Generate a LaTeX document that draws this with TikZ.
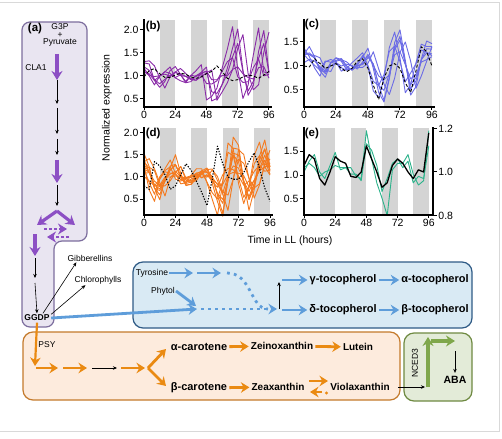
\documentclass[tikz,border=0pt]{standalone}
\usepackage{fontspec}
\setmainfont{Liberation Sans}
\usepackage{tikz}
\usetikzlibrary{arrows.meta}

\definecolor{lavbox}{HTML}{E9E5F1}
\definecolor{lavedge}{HTML}{7D6E9E}
\definecolor{purparr}{HTML}{8C4FC4}
\definecolor{purline}{HTML}{8A2BA8}
\definecolor{bluline}{HTML}{6B6BE6}
\definecolor{oraline}{HTML}{F47A1F}
\definecolor{grnline}{HTML}{2CB38B}
\definecolor{tocfill}{HTML}{D9EAF4}
\definecolor{tocedge}{HTML}{2F5B86}
\definecolor{tocarr}{HTML}{5E9DDA}
\definecolor{carfill}{HTML}{FDEBDD}
\definecolor{caredge}{HTML}{C47A2C}
\definecolor{cararr}{HTML}{EA8A12}
\definecolor{abafill}{HTML}{E3EBD8}
\definecolor{abaedge}{HTML}{6F8A42}
\definecolor{abaarr}{HTML}{7FA74B}
\definecolor{bandgray}{HTML}{D4D4D4}

\begin{document}
\begin{tikzpicture}[
  x=1pt, y=-1pt,
  font=\fontsize{8.5}{9}\selectfont,
  >={Stealth[length=4pt,width=3.5pt]},
  blk/.style={->, line width=0.6pt},
  fatp/.style={-{Stealth[length=9pt,width=11pt]}, draw=purparr, line width=3.2pt},
  pdots/.style={fatp, line width=2.6pt, dash pattern=on 2.6pt off 2.4pt},
  tocarrow/.style={-{Stealth[length=8.5pt,width=10.5pt]}, draw=tocarr, line width=2.8pt},
  tocdots/.style={tocarrow, dash pattern=on 2.8pt off 4.2pt},
  cararrow/.style={-{Stealth[length=8.5pt,width=10.5pt]}, draw=cararr, line width=2.8pt},
  abaarrow/.style={-{Stealth[length=9pt,width=11pt]}, draw=abaarr, line width=3.6pt},
  met/.style={font=\bfseries\fontsize{10}{12}\selectfont, inner sep=2pt},
  bigmet/.style={font=\bfseries\fontsize{11}{13}\selectfont, inner sep=2pt},
  side/.style={font=\fontsize{8.5}{10}\selectfont, inner sep=1pt},
  plabel/.style={font=\bfseries\fontsize{11.5}{13}\selectfont, inner sep=0pt},
  ticklbl/.style={font=\fontsize{10.5}{12}\selectfont, inner sep=1pt},
  axisline/.style={line width=1.3pt, line cap=rect},
  tickmark/.style={line width=1pt},
  subjnight/.style={fill=bandgray},
  serie/.style={line width=0.9pt, line join=round},
]

% --- fixed bounding box (white background) + page frame ---
\useasboundingbox (0,0) rectangle (502,438);
\fill[white] (0,0) rectangle (502,438);
\draw[gray!30, line width=0.8pt] (0,2) -- (499,2) -- (499,431) -- (0,431);

% ============================ (a) MEP column =========================
\draw[lavedge, fill=lavbox, line width=1.2pt, rounded corners=8pt]
  (22,22) -- (87,22) -- (87,241) -- (54,241) -- (54,327) -- (22,327) -- cycle;
\node[plabel] (pa) at (35,29) {(a)};
\node[align=center, font=\fontsize{8.5}{7.5}\selectfont, inner sep=1pt]
  (g3p) at (60,35) {G3P\\+\\Pyruvate};
\node[side] (cla1) at (36,68) {CLA1};

\foreach \n/\y in {0/54,1/80,2/104,3/108,4/134,5/139,6/155,7/160,8/183,9/185,10/206,11/211}
  \coordinate (mep\n) at (57,\y);
\draw[fatp] (mep0) -- (mep1);
\draw[blk]  (mep1) -- (mep2);
\draw[blk]  (mep3) -- (mep4);
\draw[blk]  (mep5) -- (mep6);
\draw[fatp] (mep7) -- (mep8);
\draw[blk]  (mep9) -- (mep10);

% branch + reversible dotted steps
\coordinate (brl) at (37,225);
\coordinate (brr) at (75,225);
\draw[fatp] (mep11) -- (brl);
\draw[fatp] (mep11) -- (brr);
\coordinate (dr0) at (44,229);
\coordinate (dr1) at (67,229);
\coordinate (dl0) at (69,237);
\coordinate (dl1) at (47,237);
\draw[pdots] (dr0) -- (dr1);
\draw[pdots] (dl0) -- (dl1);

\foreach \n/\y in {0/234,1/256,2/258,3/278,4/283}
  \coordinate (low\n) at (35,\y);
\node[font=\bfseries\fontsize{8.5}{10}\selectfont, inner sep=1.5pt] (ggdp) at (37,318) {GGDP};
\draw[fatp] (low0) -- (low1);
\draw[blk]  (low2) -- (low3);
\draw[blk]  (low4) -- (ggdp.north);

\node[side] (gib) at (90,258) {Gibberellins};
\node[side] (chl) at (98,280) {Chlorophylls};
\draw[blk] ([xshift=6pt]ggdp.north) -- ([xshift=10pt]gib.south west);
\draw[blk] ([yshift=-1pt]ggdp.north east) -- ([xshift=12pt]chl.south west);

% ============================ tocopherols ============================
\draw[tocedge, fill=tocfill, line width=1.2pt, rounded corners=10pt]
  (133,262) rectangle (472,328);
\node[side] (tyr) at (152,273) {Tyrosine};
\node[side] (phy) at (163,291) {Phytol};
\coordinate (ty1) at (193,273);
\coordinate (ty2) at (197,273);
\coordinate (ty3) at (221,273);
\coordinate (ty4) at (227,273);
\coordinate (phj) at (196,306);
\coordinate (tjoin) at (197,309);
\coordinate (split) at (277,309);
\coordinate (up) at (279,282);
\coordinate (gsrc) at (282,280);
\coordinate (dsrc) at (282,310);

\node[bigmet] (gtoc) at (343,280) {γ-tocopherol};
\node[bigmet] (atoc) at (435,280) {α-tocopherol};
\node[bigmet] (dtoc) at (343,310) {δ-tocopherol};
\node[bigmet] (btoc) at (435,310) {β-tocopherol};

\draw[tocarrow] (ggdp.east) -- (tjoin);
\draw[tocarrow] (tyr.east) -- (ty1);
\draw[tocarrow] (ty2) -- (ty3);
\draw[tocarrow] (phy.east) -- (phj);
\draw[tocdots, -] (ty4) .. controls (252,273) and (250,309) .. (268,309);
\draw[tocdots] ([xshift=4pt]tjoin) -- (split);
\draw[blk] ([xshift=2pt]split) -- (up);
\draw[tocarrow] (gsrc) -- (gtoc.west);
\draw[tocarrow] (dsrc) -- (dtoc.west);
\draw[tocarrow] (gtoc) -- (atoc);
\draw[tocarrow] (dtoc) -- (btoc);

% ============================ carotenoids ============================
\draw[caredge, fill=carfill, line width=1.2pt, rounded corners=10pt]
  (23,332) rectangle (400,400);
\node[side] (psy) at (47,345) {PSY};
\foreach \n/\x in {1/35,2/36,3/58,4/63,5/87,6/92,7/117,8/121,9/145,10/148}
  \coordinate (car\n) at (\x,368);
\coordinate (car1) at (35,366);
\coordinate (fka) at (166,349);
\coordinate (fkb) at (166,386);
\draw[cararrow, line width=2.2pt] (ggdp.south) -- (car1);
\draw[cararrow, line width=2.2pt] (car2) -- (car3);
\draw[cararrow] (car4) -- (car5);
\draw[blk] (car6) -- (car7);
\draw[cararrow] (car8) -- (car9);
\draw[cararrow] (car10) -- (fka);
\draw[cararrow] (car10) -- (fkb);

\node[bigmet] (acar) at (199,347) {α-carotene};
\node[bigmet] (bcar) at (199,388) {β-carotene};
\node[met] (zein) at (282,346) {Zeinoxanthin};
\node[met] (lut)  at (358,347) {Lutein};
\node[met] (zeax) at (278,387) {Zeaxanthin};
\node[met] (viol) at (360,387) {Violaxanthin};
\draw[cararrow] (acar) -- (zein);
\draw[cararrow] (zein) -- (lut);
\draw[cararrow] (bcar) -- (zeax);
\coordinate (rv0) at (309,381);
\coordinate (rv1) at (328,381);
\coordinate (rv2) at (322,392);
\coordinate (rv3) at (310,392);
\draw[cararrow] (rv0) -- (rv1);
\draw[cararrow] (rv2) -- (rv3);
\fill[cararr] (326.5,393) circle (1.6);

% ============================ ABA ====================================
\draw[abaedge, fill=abafill, line width=1.2pt, rounded corners=10pt]
  (404,333) rectangle (472,401);
\node[side, rotate=90] (nced) at (415,363) {NCED3};
\node[font=\bfseries\fontsize{10.5}{12}\selectfont] (aba) at (455,380) {ABA};
\coordinate (gr0) at (428,387);
\coordinate (gr1) at (428,337);
\coordinate (gr2) at (431,341);
\coordinate (gr3) at (455,341);
\coordinate (abt) at (455,351);
\draw[blk] ([xshift=6pt]viol.east) -- ([xshift=-3pt]gr0);
\draw[abaarrow] (gr0) -- (gr1);
\draw[abaarrow] (gr2) -- (gr3);
\draw[blk] (abt) -- (aba.north);

% ============================ time courses ===========================
\def\bbase{{1.3,1.2,0.95,0.75,0.95,1.1,1.2,1.0,0.9,0.88,0.95,1.15,1.2,0.45,0.55,0.8,1.1,1.6,2.0,1.1,0.6,0.75,1.5,2.05,1.05}}
\def\cbase{{1.25,1.3,1.15,0.95,0.8,1.05,1.15,1.1,0.95,0.9,1.0,1.1,1.3,1.0,0.55,0.35,0.75,1.35,1.6,1.1,0.5,0.7,1.1,1.4,1.4}}
\def\dbase{{1.35,1.15,0.8,0.6,0.95,1.15,1.3,1.0,0.85,0.9,1.05,1.1,1.15,0.95,0.6,0.35,0.95,1.6,1.5,0.9,0.5,0.8,1.35,1.6,1.2}}
\pgfmathsetseed{7}

\node[rotate=90, font=\fontsize{10.5}{12}\selectfont] (ylab) at (107,108) {Normalized expression};
\node[font=\fontsize{10.5}{12}\selectfont] (xlab) at (290,241) {Time in LL (hours)};

% --- panel (b) ---
\begin{scope}[shift={(144,122)}, x=1.302pt, y=46pt]
  \foreach \t in {12,36,60,84} \fill[subjnight] (\t,0.326) rectangle (\t+12,2.217);
  \foreach \amp/\s in {0.25/0,0.4/1,0.7/0,0.9/-1,1.0/0,1.05/1}
    \draw[serie, purline] plot[samples at={0,4,...,96}]
      (\x, {1+\amp*(\bbase[max(0,min(24,int(\x/4)+\s))]-1)+0.07*rand});
  \draw[serie, dash pattern=on 3pt off 2pt] plot coordinates {(0,0.98) (4,1.12) (8,1.16)
    (12,1.05) (16,0.97) (20,0.97) (24,1.02) (28,1.06) (32,1.04) (36,0.98) (40,0.95)
    (44,0.98) (48,1.05) (52,1.1) (56,1.22) (60,1.1) (64,0.95) (68,0.9) (72,0.92)
    (76,0.98) (80,1.02) (84,1.0) (88,0.95) (92,1.02) (96,1.1)};
  \draw[axisline] (0,2.217) -- (0,0.326) -- (98,0.326);
  \foreach \v in {0.5,1.0,1.5,2.0}
    \draw[tickmark] (0,\v) -- ++(-4pt,0) node[left, ticklbl] {\v};
  \foreach \t in {0,24,...,96}
    \draw[tickmark] (\t,0.326) -- ++(0,-3pt) node[below, ticklbl] {\t};
  \node[plabel] (pb) at (7,2.08) {(b)};
\end{scope}

% --- panel (c) ---
\begin{scope}[shift={(304,114)}, x=1.333pt, y=48pt]
  \foreach \t in {12,36,60,84} \fill[subjnight] (\t,0.146) rectangle (\t+12,1.958);
  \foreach \amp/\s in {0.5/0,0.7/1,0.8/0,0.9/-1,1.0/0,1.1/1,1.2/0}
    \draw[serie, bluline] plot[samples at={0,4,...,96}]
      (\x, {1+\amp*(\cbase[max(0,min(24,int(\x/4)+\s))]-1)+0.07*rand});
  \draw[serie, dash pattern=on 3pt off 2pt] plot coordinates {(0,1.0) (4,0.98) (8,1.15)
    (12,1.05) (16,0.95) (20,1.0) (24,1.05) (28,0.95) (32,0.88) (36,0.95) (40,1.1)
    (44,1.15) (48,0.95) (52,0.6) (56,0.3) (60,0.75) (64,1.0) (68,1.05) (72,0.95)
    (76,0.65) (80,0.45) (84,0.9) (88,1.4) (92,1.3) (96,1.0)};
  \draw[axisline] (0,1.958) -- (0,0.146) -- (98,0.146);
  \foreach \v in {0.5,1.0,1.5}
    \draw[tickmark] (0,\v) -- ++(-4pt,0) node[left, ticklbl] {\v};
  \foreach \t in {0,24,...,96}
    \draw[tickmark] (\t,0.146) -- ++(0,-3pt) node[below, ticklbl] {\t};
  \node[plabel] (pc) at (6,1.86) {(c)};
\end{scope}

% --- panel (d) ---
\begin{scope}[shift={(144,221)}, x=1.3125pt, y=44pt]
  \foreach \t in {12,36,60,84} \fill[subjnight] (\t,0.136) rectangle (\t+12,2.114);
  \foreach \amp/\s in {0.3/0,0.45/1,0.55/0,0.65/-1,0.75/0,0.85/1,0.95/0,1.05/-1,1.15/0,1.3/1,1.45/0}
    \draw[serie, oraline] plot[samples at={0,4,...,96}]
      (\x, {1+\amp*(\dbase[max(0,min(24,int(\x/4)+\s))]-1)+0.08*rand});
  \draw[serie, line width=1.1pt, dash pattern=on 1.3pt off 1.5pt] plot coordinates {(0,0.8)
    (4,0.72) (8,1.35) (12,1.25) (16,1.05) (20,0.72) (24,0.8) (28,1.05) (32,1.3)
    (36,1.15) (40,0.9) (44,0.65) (48,0.35) (52,0.95) (56,1.7) (60,1.3) (64,1.0)
    (68,0.95) (72,0.95) (76,1.1) (80,1.35) (84,1.55) (88,1.2) (92,0.75) (96,0.45)};
  \draw[axisline] (0,2.114) -- (0,0.136) -- (98,0.136);
  \foreach \v in {0.5,1.0,1.5,2.0}
    \draw[tickmark] (0,\v) -- ++(-4pt,0) node[left, ticklbl] {\v};
  \foreach \t in {0,24,...,96}
    \draw[tickmark] (\t,0.136) -- ++(0,-3pt) node[below, ticklbl] {\t};
  \node[plabel] (pd) at (7,1.98) {(d)};
\end{scope}

% --- panel (e) (right axis scale) ---
\begin{scope}[shift={(304,389.5)}, x=1.3pt, y=217.5pt]
  \foreach \t in {12,36,60,84} \fill[subjnight] (\t,0.802) rectangle (\t+12,1.202);
  \draw[serie, grnline] plot coordinates {(0,1.0) (4,1.05) (8,1.08) (12,1.0) (16,0.97)
    (20,1.03) (24,1.09) (28,1.01) (32,1.02) (36,1.02) (40,0.98) (44,0.97) (48,1.19)
    (52,1.06) (56,0.95) (60,0.88) (64,0.8) (68,1.01) (72,1.04) (76,1.04) (80,1.08)
    (84,0.99) (88,0.94) (92,0.96) (96,1.19)};
  \draw[serie, grnline] plot coordinates {(0,1.02) (4,1.04) (8,1.02) (12,0.98) (16,1.0)
    (20,1.01) (24,1.03) (28,1.02) (32,1.02) (36,0.99) (40,0.99) (44,0.96) (48,1.13)
    (52,1.1) (56,1.03) (60,0.91) (64,0.97) (68,1.04) (72,1.06) (76,1.02) (80,1.05)
    (84,0.95) (88,0.98) (92,0.97) (96,1.12)};
  \draw[serie, line width=1.3pt] plot coordinates {(0,1.03) (4,1.08) (8,1.06) (12,0.97)
    (16,0.94) (20,1.0) (24,1.07) (28,1.05) (32,1.04) (36,0.98) (40,0.975) (44,1.0)
    (48,1.12) (52,1.06) (56,1.0) (60,0.93) (64,0.95) (68,1.03) (72,1.06) (76,1.04)
    (80,1.0) (84,0.97) (88,1.01) (92,1.0) (96,1.18)};
  \draw[axisline] (0,1.202) -- (0,0.802) -- (99.2,0.802) -- (99.2,1.202);
  \foreach \v/\lab in {0.876/0.5,0.986/1.0,1.096/1.5}
    \draw[tickmark] (0,\v) -- ++(-4pt,0) node[left, ticklbl] {\lab};
  \foreach \v in {0.8,1.0,1.2}
    \draw[tickmark] (99.2,\v) -- ++(4pt,0) node[right, ticklbl] {\v};
  \foreach \t in {0,24,...,96}
    \draw[tickmark] (\t,0.802) -- ++(0,-3pt) node[below, ticklbl] {\t};
  \node[plabel] (pe) at (6,1.175) {(e)};
\end{scope}

\end{tikzpicture}
\end{document}
